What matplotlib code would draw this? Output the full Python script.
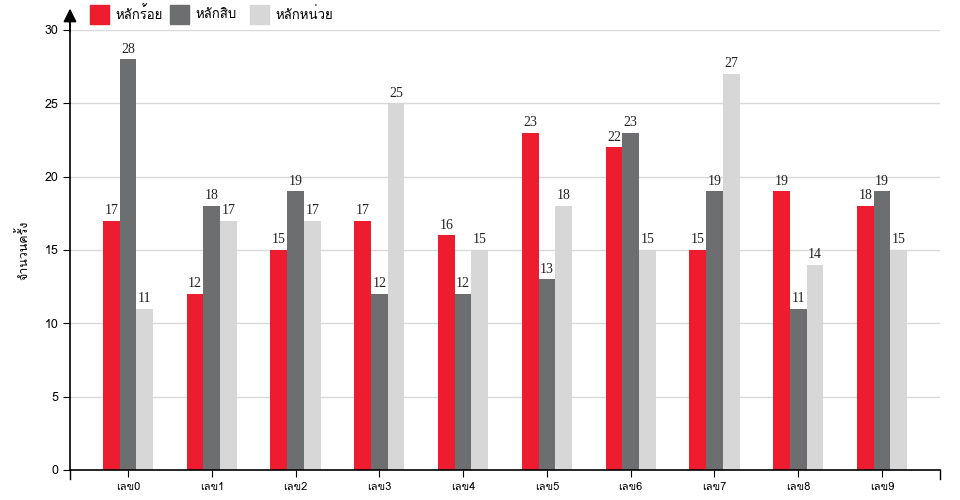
import matplotlib
matplotlib.use('Agg')
from matplotlib import pyplot as plt
from matplotlib import font_manager
from matplotlib.ft2font import FT2Font
from matplotlib.patches import Rectangle
import numpy as np

categories = ['เลข0', 'เลข1', 'เลข2', 'เลข3', 'เลข4', 'เลข5', 'เลข6', 'เลข7', 'เลข8', 'เลข9']
hundreds = [17, 12, 15, 17, 16, 23, 22, 15, 19, 18]
tens = [28, 18, 19, 12, 12, 13, 23, 19, 11, 19]
units = [11, 17, 17, 25, 15, 18, 15, 27, 14, 15]
series_names = ['หลักร้อย', 'หลักสิบ', 'หลักหน่วย']
colors = ['#ed1c2e', '#6d6e70', '#d7d7d7']
yticks = [0, 5, 10, 15, 20, 25, 30]

# look for a font that has Thai glyphs
thai_fonts = []
for f in font_manager.fontManager.ttflist:
    try:
        cmap = FT2Font(f.fname).get_charmap()
    except Exception:
        continue
    if 0x0E2B in cmap and 0x0E01 in cmap:
        if f.name not in thai_fonts:
            thai_fonts.append(f.name)
plt.rcParams['font.family'] = thai_fonts[:1] + ['DejaVu Sans']

W, H = 960, 500
fig = plt.figure(figsize=(9.6, 5), dpi=100)
ax = fig.add_axes([70/W, 30/H, 870/W, 440/H])

x = np.arange(len(categories))
w = 0.2
for i, (vals, name, c) in enumerate(zip([hundreds, tens, units], series_names, colors)):
    pos = x + (i - 1) * w
    ax.bar(pos, vals, width=w, color=c, label=name, zorder=2)
    for p, v in zip(pos, vals):
        ax.text(p, v + 0.25, str(v), ha='center', va='bottom', fontsize=10,
                family='Liberation Serif', color='#222222')

ax.set_ylim(0, 30)
ax.set_xlim(-0.693, 9.693)
ax.set_yticks(yticks)
ax.set_xticks(x)
ax.set_xticklabels(categories, fontsize=8)
ax.tick_params(axis='y', labelsize=9, length=5)
ax.tick_params(axis='x', length=5)
# outer ticks at the ends of x axis
for xe in [-0.693, 9.693]:
    ax.plot([xe, xe], [0, -0.02], transform=ax.get_xaxis_transform(), color='black',
            lw=1, clip_on=False)
for yv in yticks[1:]:
    ax.axhline(yv, color='#d9d9d9', lw=1, zorder=0)

for s in ['top', 'right']:
    ax.spines[s].set_visible(False)
ax.spines['bottom'].set_linewidth(1.2)
ax.spines['left'].set_linewidth(1.2)
ax.annotate('', xy=(0, 1.055), xytext=(0, 0.99), xycoords='axes fraction',
            arrowprops=dict(arrowstyle='-|>', color='black', lw=1.2, mutation_scale=20))
ax.plot([0, 0], [1, 1.02], transform=ax.transAxes, color='black', lw=1.2, clip_on=False)

ax.set_ylabel('จำนวนครั้ง', fontsize=9)
ax.yaxis.set_label_coords(-0.045, 0.5)

# legend drawn by hand: square + label
leg_x = [90, 170, 250]
for lx, name, c in zip(leg_x, series_names, colors):
    fig.patches.append(Rectangle((lx/W, 1 - 24/H), 19/W, 19/H, transform=fig.transFigure,
                                 color=c))
    fig.text((lx + 25)/W, 1 - 14.5/H, name, fontsize=9.5, va='center', ha='left')

plt.savefig('out.png', dpi=100)
